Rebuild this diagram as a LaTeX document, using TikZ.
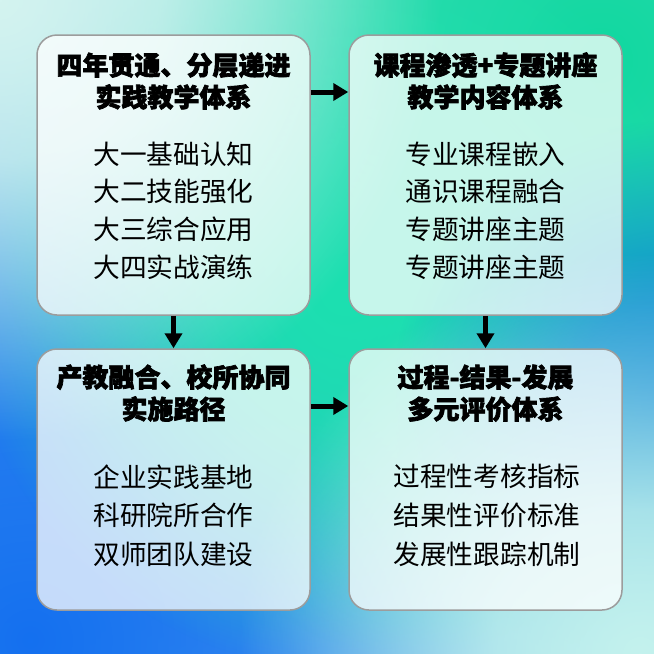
\documentclass[tikz,border=0pt]{standalone}
\usepackage{fontspec}
\setmainfont{Noto Sans CJK SC}
\newfontfamily\ttlfont{Noto Sans CJK SC Black}[FakeBold=2.5]
\usetikzlibrary{arrows.meta,fadings}
\pgfdeclareradialshading{softblobsh}{\pgfpointorigin}{color(0bp)=(white); color(9bp)=(white!82!black); color(25bp)=(black); color(50bp)=(black)}
\pgfdeclarefading{softblob}{\pgfuseshading{softblobsh}}
\definecolor{bgbase}{HTML}{B0E8EC}
\definecolor{bggreen}{HTML}{10D8A0}
\definecolor{bggreenc}{HTML}{1CE0B0}
\definecolor{bgblue}{HTML}{1470F0}
\definecolor{bgblueL}{HTML}{6CB4EC}
\definecolor{bgblueR}{HTML}{0C84D8}
\definecolor{bglight}{HTML}{D4F4F0}
\definecolor{bglightb}{HTML}{C4F2EE}
\definecolor{boxborder}{HTML}{9C9C9C}
\begin{document}
\begin{tikzpicture}[x=1pt,y=-1pt,
  box/.style={draw=boxborder, line width=1.5pt, fill=white, fill opacity=0.75,
    rounded corners=20pt, inner sep=0pt, minimum width=273pt},
  arr/.style={line width=5pt, -{Triangle[length=15pt,width=17pt]}},
  ttl/.style={font=\ttlfont\fontsize{26pt}{32pt}\selectfont, anchor=base, inner sep=0pt},
  itm/.style={font=\fontsize{26.7pt}{38pt}\selectfont, anchor=base, inner sep=0pt}]
\useasboundingbox (0,0) rectangle (654,654);
\fill[bgbase] (0,0) rectangle (654,654);
\begin{scope}
\clip (0,0) rectangle (654,654);
\fill[bgblueL, path fading=softblob] (0,330) circle (400pt);
\fill[bgblue, path fading=softblob] (30,640) circle (720pt);
\fill[bggreen, path fading=softblob] (600,60) circle (640pt);
\fill[bggreenc, path fading=softblob] (345,290) circle (380pt);
\fill[bgblueR, path fading=softblob] (672,400) circle (280pt);
\fill[bglight, path fading=softblob] (0,0) circle (440pt);
\fill[bglightb, path fading=softblob] (640,654) circle (400pt);
\end{scope}
% boxes
\node[box, minimum height=280pt] (tl) at (173.5,175) {};
\node[box, minimum height=280pt] (tr) at (485.5,175) {};
\node[box, minimum height=261pt] (bl) at (173.5,479.5) {};
\node[box, minimum height=261pt] (br) at (485.5,479.5) {};
% arrows
\draw[arr] ([yshift=83pt]tl.east) -- ([yshift=83pt]tr.west);
\draw[arr] (tl.south) -- (bl.north);
\draw[arr] (tr.south) -- (br.north);
\draw[arr] ([yshift=73.5pt]bl.east) -- ([yshift=73.5pt]br.west);
% texts TL
\node[ttl] (tl-t1) at (173.5,75) {四年贯通、分层递进};
\node[ttl] (tl-t2) at (173.5,107) {实践教学体系};
\foreach \t [count=\i from 0] in {大一基础认知,大二技能强化,大三综合应用,大四实战演练}
  \node[itm] (tl-i\i) at (173.5,{164+37.7*\i}) {\t};
% texts TR
\node[ttl] (tr-t1) at (485.5,75) {课程渗透+专题讲座};
\node[ttl] (tr-t2) at (485.5,107) {教学内容体系};
\foreach \t [count=\i from 0] in {专业课程嵌入,通识课程融合,专题讲座主题,专题讲座主题}
  \node[itm] (tr-i\i) at (485.5,{164+37.7*\i}) {\t};
% texts BL
\node[ttl] (bl-t1) at (173.5,387) {产教融合、校所协同};
\node[ttl] (bl-t2) at (173.5,419) {实施路径};
\foreach \t [count=\i from 0] in {企业实践基地,科研院所合作,双师团队建设}
  \node[itm] (bl-i\i) at (173.5,{487.3+38.6*\i}) {\t};
% texts BR
\node[ttl] (br-t1) at (485.5,387) {过程-结果-发展};
\node[ttl] (br-t2) at (485.5,419) {多元评价体系};
\foreach \t [count=\i from 0] in {过程性考核指标,结果性评价标准,发展性跟踪机制}
  \node[itm] (br-i\i) at (487,{486+39.3*\i}) {\t};
\end{tikzpicture}
\end{document}
